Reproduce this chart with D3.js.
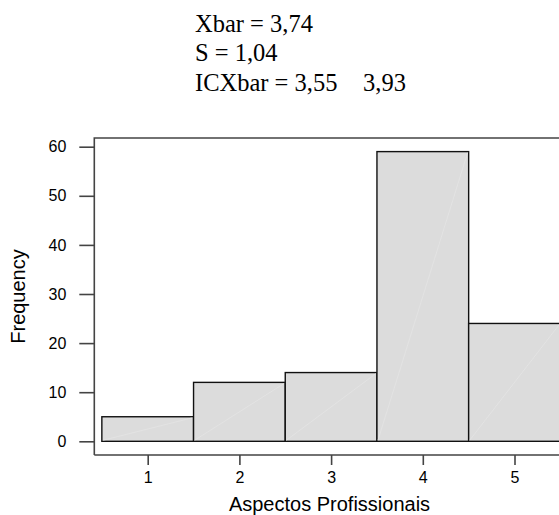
<!DOCTYPE html>
<html>
<head>
<meta charset="utf-8">
<script src="https://cdn.jsdelivr.net/npm/d3@7"></script>
<style>
  html, body { margin: 0; padding: 0; background: #fff; }
  svg { display: block; }
</style>
</head>
<body>
<svg id="chart" width="559" height="515"></svg>
<script>
// Data
const categories = [1, 2, 3, 4, 5];
const frequencies = [5, 12, 14, 59, 24];
const yTicks = [0, 10, 20, 30, 40, 50, 60];
const xTicks = [1, 2, 3, 4, 5];
const statLines = ["Xbar = 3,74", "S = 1,04", "ICXbar = 3,55"];
const statExtra = "3,93";
const xLabel = "Aspectos Profissionais";
const yLabel = "Frequency";

const svg = d3.select("#chart");

const x = d3.scaleLinear().domain([0.5, 5.5]).range([101.85, 560.35]);
const y = d3.scaleLinear().domain([0, 60]).range([441.3, 146.7]);

const frameLeft = 94.3, frameTop = 138, frameBottom = 455;

// Header stats
const statG = svg.append("g")
  .style("font-family", "'Liberation Serif', 'Times New Roman', serif")
  .style("font-size", "24.5px")
  .attr("fill", "#000");
statLines.forEach((s, i) => {
  statG.append("text").attr("x", 195).attr("y", 31.5 + i * 29.5).text(s);
});
statG.append("text").attr("x", 363).attr("y", 31.5 + 2 * 29.5).text(statExtra);

// Bars
const barG = svg.append("g");
categories.forEach((c, i) => {
  const x0 = x(c - 0.5), x1 = x(c + 0.5);
  const yt = y(frequencies[i]), yb = y(0);
  barG.append("rect")
    .attr("x", x0).attr("y", yt)
    .attr("width", x1 - x0).attr("height", yb - yt)
    .attr("fill", "#dcdcdc")
    .attr("stroke", "#111")
    .attr("stroke-width", 1.4);
  barG.append("line")
    .attr("x1", x0 + 1).attr("y1", yb - 1)
    .attr("x2", x1 - 1).attr("y2", yt + 1)
    .attr("stroke", "#e5e5e5").attr("stroke-width", 0.7);
});

// Frame
svg.append("path")
  .attr("d", `M${frameLeft},${frameBottom} L${frameLeft},${frameTop} L565,${frameTop} M${frameLeft},${frameBottom} L565,${frameBottom}`)
  .attr("fill", "none")
  .attr("stroke", "#444")
  .attr("stroke-width", 1.6);

// Y axis
const yAxis = svg.append("g")
  .attr("transform", `translate(${frameLeft},0)`)
  .call(d3.axisLeft(y).tickValues(yTicks).tickSize(15).tickPadding(13).tickFormat(d3.format("d")));
yAxis.attr("font-size", null).attr("font-family", null);
yAxis.select(".domain").remove();
yAxis.selectAll(".tick line").attr("stroke", "#444").attr("stroke-width", 1.6);
yAxis.selectAll(".tick text")
  .style("font-family", "'Liberation Sans', Arial, sans-serif")
  .style("font-size", "16px")
  .attr("fill", "#000");

// X axis
const xAxis = svg.append("g")
  .attr("transform", `translate(0,${frameBottom})`)
  .call(d3.axisBottom(x).tickValues(xTicks).tickSize(10).tickPadding(7).tickFormat(d3.format("d")));
xAxis.attr("font-size", null).attr("font-family", null);
xAxis.select(".domain").remove();
xAxis.selectAll(".tick line").attr("stroke", "#444").attr("stroke-width", 1.6);
xAxis.selectAll(".tick text")
  .style("font-family", "'Liberation Sans', Arial, sans-serif")
  .style("font-size", "16px")
  .attr("fill", "#000");

// Axis titles
svg.append("text")
  .attr("x", 329.5).attr("y", 510.5)
  .attr("text-anchor", "middle")
  .style("font-family", "'Liberation Sans', Arial, sans-serif")
  .style("font-size", "20px")
  .text(xLabel);

svg.append("text")
  .attr("transform", `translate(25,296.5) rotate(-90)`)
  .attr("text-anchor", "middle")
  .style("font-family", "'Liberation Sans', Arial, sans-serif")
  .style("font-size", "20px")
  .text(yLabel);
</script>
</body>
</html>
